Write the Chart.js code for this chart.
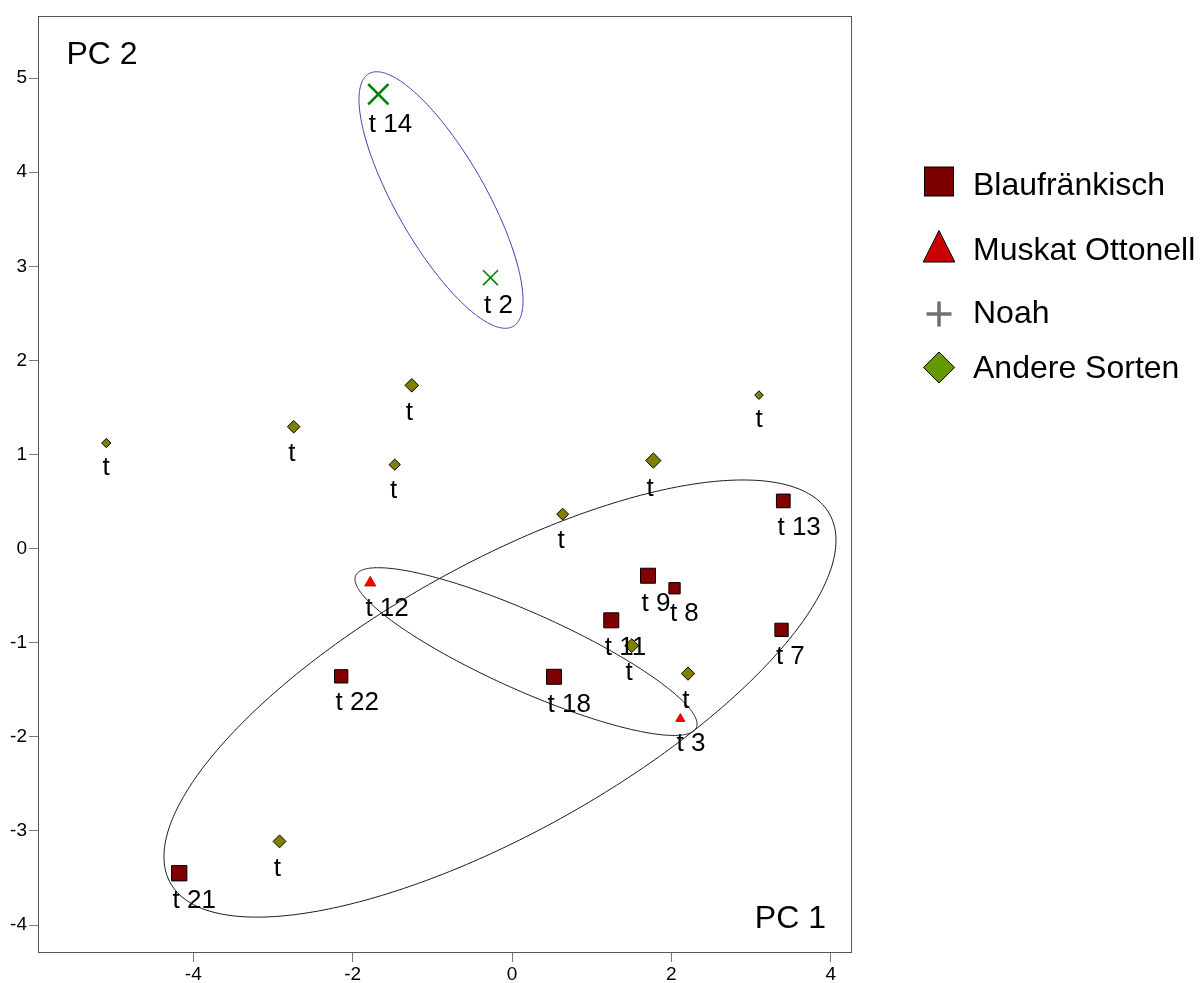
<!DOCTYPE html>
<html>
<head>
<meta charset="utf-8">
<title>PCA</title>
<script src="https://cdn.jsdelivr.net/npm/chart.js@4.4.1/dist/chart.umd.min.js"></script>
<style>
  html, body { margin: 0; padding: 0; background: #ffffff; }
  canvas { display: block; }
</style>
</head>
<body>
<canvas id="pca" width="1203" height="983"></canvas>
<script>
// Sample scores on the first two principal components, by grape variety
const blauLabels = ['t 13', 't 9', 't 8', 't 11', 't 7', 't 18', 't 22', 't 21'];
const blauPC1 = [3.405, 1.707, 2.040, 1.246, 3.383, 0.527, -2.144, -4.177];
const blauPC2 = [0.507, -0.288, -0.421, -0.762, -0.863, -1.362, -1.357, -3.449];

const muskatLabels = ['t 12', 't 3'];
const muskatPC1 = [-1.779, 2.113];
const muskatPC2 = [-0.363, -1.808];

const noahLabels = ['t 14', 't 2'];
const noahPC1 = [-1.678, -0.270];
const noahPC2 = [4.828, 2.879];

const andereLabels = ['t', 't', 't', 't', 't', 't', 't', 't', 't', 't'];
const anderePC1 = [-5.092, -2.740, -1.258, -1.472, 3.100, 1.774, 0.636, 1.502, 2.209, -2.918];
const anderePC2 = [1.122, 1.295, 1.735, 0.892, 1.631, 0.936, 0.366, -1.031, -1.328, -3.111];

const xTicks = [-4, -2, 0, 2, 4];
const yTicks = [-4, -3, -2, -1, 0, 1, 2, 3, 4, 5];
const legendNames = ['Blaufränkisch', 'Muskat Ottonell', 'Noah', 'Andere Sorten'];

// Group ellipses in PC units: centre, semi-axes and rotation (degrees)
const ellipseCentreX = [-0.891, 0.176, -0.151];
const ellipseCentreY = [3.704, -1.094, -1.593];
const ellipseSemiMajor = [1.621, 2.286, 4.583];
const ellipseSemiMinor = [0.538, 0.421, 1.476];
const ellipseAngle = [-54.98, -20.46, 24.41];

// ---- styling ----
const FONT = "'Liberation Sans', Arial, Helvetica, sans-serif";
const ellipseColour = ['#3a3ab0', '#1a1a1a', '#1a1a1a'];
const blauMarkerPx = [14.7, 16, 12.3, 16, 14.3, 16, 14.3, 16.3];
const muskatMarkerPx = [12.7, 10.7];
const noahMarkerPx = [22, 16];
const noahStroke = [2.6, 1.6];
const andereMarkerPx = [10.7, 14, 15, 12.7, 10, 16.7, 13.3, 15.3, 14.7, 14.3];

const pts = (xs, ys) => xs.map((v, i) => ({ x: v, y: ys[i] }));
const rectRadius = s => (s - 1) / Math.SQRT2;
const diamondRadius = s => (s - 1.4) / 2;
const triRadius = s => (s - 1.5) / Math.sqrt(3);

const ellipsePlugin = {
  id: 'groupEllipses',
  beforeDatasetsDraw(chart) {
    const { ctx, scales: { x, y } } = chart;
    ctx.save();
    for (let i = 0; i < ellipseCentreX.length; i++) {
      const th = ellipseAngle[i] * Math.PI / 180;
      const c = Math.cos(th), s = Math.sin(th);
      ctx.beginPath();
      for (let k = 0; k <= 360; k++) {
        const t = k * Math.PI / 180;
        const u = ellipseSemiMajor[i] * Math.cos(t);
        const v = ellipseSemiMinor[i] * Math.sin(t);
        const px = x.getPixelForValue(ellipseCentreX[i] + u * c - v * s);
        const py = y.getPixelForValue(ellipseCentreY[i] + u * s + v * c);
        if (k === 0) ctx.moveTo(px, py); else ctx.lineTo(px, py);
      }
      ctx.closePath();
      ctx.strokeStyle = ellipseColour[i];
      ctx.lineWidth = 1;
      ctx.stroke();
    }
    ctx.restore();
  }
};

const framePlugin = {
  id: 'frameAndLabels',
  afterDatasetsDraw(chart) {
    const { ctx, chartArea: a } = chart;
    ctx.save();
    // sample names under each marker
    ctx.fillStyle = '#000';
    ctx.font = `26px ${FONT}`;
    ctx.textAlign = 'left';
    ctx.textBaseline = 'alphabetic';
    chart.data.datasets.forEach((ds, di) => {
      const meta = chart.getDatasetMeta(di);
      meta.data.forEach((el, j) => {
        const half = ds.markerPx[j] / 2;
        ctx.fillText(ds.pointLabels[j], el.x - half + 1.5, el.y + half + 27);
      });
    });
    // box around the plot
    ctx.strokeStyle = '#555';
    ctx.lineWidth = 1;
    ctx.strokeRect(Math.round(a.left) - 0.5, Math.round(a.top) - 0.5,
      Math.round(a.right - a.left) + 1, Math.round(a.bottom - a.top) + 1);
    // axis names inside the plot
    ctx.font = `32px ${FONT}`;
    ctx.fillText('PC 2', a.left + 27.5, a.top + 47);
    ctx.textAlign = 'right';
    ctx.fillText('PC 1', a.right - 25, a.bottom - 24);
    ctx.restore();
  }
};

const legendPlugin = {
  id: 'varietyLegend',
  afterDraw(chart) {
    const { ctx, chartArea: a } = chart;
    const mx = a.right + 88;
    const tx = a.right + 122;
    const base = [195, 260, 323.3, 378.3];
    ctx.save();
    ctx.lineWidth = 1;
    ctx.strokeStyle = '#000';
    // square
    ctx.fillStyle = '#7a0000';
    ctx.fillRect(mx - 14.5, 167, 29, 29);
    ctx.strokeRect(mx - 14.5, 167, 29, 29);
    // triangle
    ctx.beginPath();
    ctx.moveTo(mx, 230.5);
    ctx.lineTo(mx + 15.8, 262);
    ctx.lineTo(mx - 15.8, 262);
    ctx.closePath();
    ctx.fillStyle = '#cc0000';
    ctx.fill();
    ctx.stroke();
    // plus
    ctx.beginPath();
    ctx.moveTo(mx - 12.5, 314); ctx.lineTo(mx + 12.5, 314);
    ctx.moveTo(mx, 301.5); ctx.lineTo(mx, 326.5);
    ctx.strokeStyle = '#707070';
    ctx.lineWidth = 3.5;
    ctx.stroke();
    // diamond
    ctx.beginPath();
    ctx.moveTo(mx, 352); ctx.lineTo(mx + 15.6, 367.5);
    ctx.lineTo(mx, 383); ctx.lineTo(mx - 15.6, 367.5);
    ctx.closePath();
    ctx.fillStyle = '#669900';
    ctx.fill();
    ctx.strokeStyle = '#000';
    ctx.lineWidth = 1;
    ctx.stroke();
    // names
    ctx.fillStyle = '#000';
    ctx.font = `32px ${FONT}`;
    ctx.textAlign = 'left';
    ctx.textBaseline = 'alphabetic';
    legendNames.forEach((n, i) => ctx.fillText(n, tx, base[i]));
    ctx.restore();
  }
};

new Chart(document.getElementById('pca'), {
  type: 'scatter',
  data: {
    datasets: [
      {
        label: legendNames[0],
        data: pts(blauPC1, blauPC2),
        pointLabels: blauLabels,
        markerPx: blauMarkerPx,
        pointStyle: 'rect',
        pointRadius: blauMarkerPx.map(rectRadius),
        backgroundColor: '#800000',
        borderColor: '#000',
        borderWidth: 1
      },
      {
        label: legendNames[1],
        data: pts(muskatPC1, muskatPC2),
        pointLabels: muskatLabels,
        markerPx: muskatMarkerPx,
        pointStyle: 'triangle',
        pointRadius: muskatMarkerPx.map(triRadius),
        backgroundColor: '#ff0000',
        borderColor: '#b00000',
        borderWidth: 0.8
      },
      {
        label: legendNames[2],
        data: pts(noahPC1, noahPC2),
        pointLabels: noahLabels,
        markerPx: noahMarkerPx,
        pointStyle: 'crossRot',
        pointRadius: noahMarkerPx.map((s, i) => (s - 0.7 * noahStroke[i]) / Math.SQRT2),
        backgroundColor: '#008000',
        borderColor: '#008000',
        borderWidth: noahStroke
      },
      {
        label: legendNames[3],
        data: pts(anderePC1, anderePC2),
        pointLabels: andereLabels,
        markerPx: andereMarkerPx,
        pointStyle: 'rectRot',
        pointRadius: andereMarkerPx.map(diamondRadius),
        backgroundColor: '#808000',
        borderColor: '#000',
        borderWidth: 1
      }
    ]
  },
  options: {
    responsive: false,
    animation: false,
    devicePixelRatio: 1,
    layout: { padding: { top: 15, right: 352, left: 0, bottom: 0 } },
    plugins: { legend: { display: false }, tooltip: { enabled: false } },
    elements: { point: { hoverRadius: 0 } },
    scales: {
      x: {
        type: 'linear',
        min: -5.937,
        max: 4.255,
        afterBuildTicks: s => { s.ticks = xTicks.map(v => ({ value: v })); },
        afterFit: s => { s.height = 31; },
        grid: { drawOnChartArea: false, drawTicks: true, tickLength: 10, tickColor: '#777', lineWidth: 1 },
        border: { display: false },
        ticks: { color: '#000', font: { family: FONT, size: 19 }, padding: 1, maxRotation: 0 }
      },
      y: {
        type: 'linear',
        min: -4.286,
        max: 5.650,
        afterBuildTicks: s => { s.ticks = yTicks.map(v => ({ value: v })); },
        afterFit: s => { s.width = 39; },
        grid: { drawOnChartArea: false, drawTicks: true, tickLength: 10, tickColor: '#777', lineWidth: 1 },
        border: { display: false },
        ticks: { color: '#000', font: { family: FONT, size: 19 }, padding: 2 }
      }
    }
  },
  plugins: [ellipsePlugin, framePlugin, legendPlugin]
});
</script>
</body>
</html>
